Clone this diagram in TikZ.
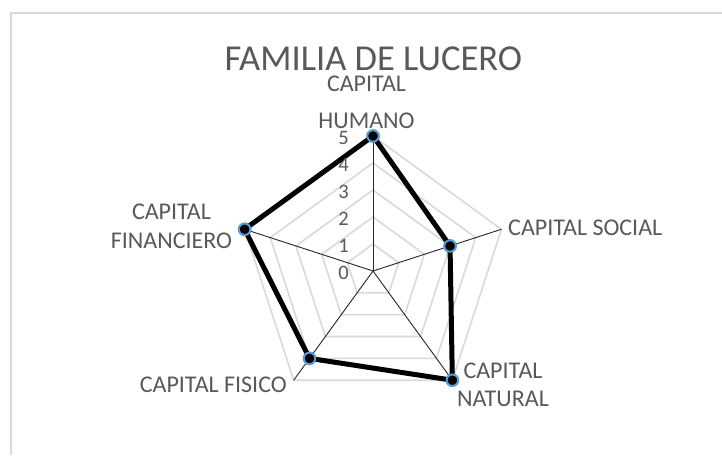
\documentclass[tikz,border=0pt]{standalone}
\usepackage{fontspec}
\setmainfont{Carlito}
\usetikzlibrary{calc}
\definecolor{txt}{HTML}{595959}
\definecolor{gridc}{HTML}{D9D9D9}
\definecolor{mk}{HTML}{5B9BD5}
\begin{document}
\begin{tikzpicture}[x=1pt,y=-1pt,
  gridline/.style={draw=gridc,line width=1.6pt},
  axisline/.style={draw=black!85,line width=0.9pt},
  series/.style={draw=black,line width=5pt,line join=round},
  marker/.style={circle,fill=black,draw=mk,line width=2pt,minimum size=11.5pt,inner sep=0pt},
  lbl/.style={text=txt,inner sep=0pt,align=center},
  tick/.style={text=txt,font=\fontsize{20.5}{20.5}\selectfont,inner sep=0pt,anchor=base east}]
\useasboundingbox (0,0) rectangle (722,455);
\fill[white] (0,0) rectangle (722,455);
\draw[draw=gridc,line width=2pt] (11,455) -- (11,13) -- (722,13);
\coordinate (C) at (373,271);
\foreach \i/\a in {1/90,2/18,3/-54,4/-126,5/162} {
  \foreach \v in {1,...,5} { \coordinate (g\i-\v) at ($(C)+(\a:\v*27pt)$); }
}
% grid pentagons
\foreach \v in {1,...,5}
  \draw[gridline] (g1-\v) -- (g2-\v) -- (g3-\v) -- (g4-\v) -- (g5-\v) -- cycle;
% axes
\foreach \i in {1,...,5}
  \draw[axisline] (C) -- (g\i-5);
% series
\node[marker] (pH) at (g1-5) {};
\node[marker] (pS) at (g2-3) {};
\node[marker] (pN) at (g3-5) {};
\node[marker] (pF) at (g4-4) {};
\node[marker] (pI) at (g5-5) {};
\draw[series] (pH.center) -- (pS.center) -- (pN.center) -- (pF.center) -- (pI.center) -- cycle;
\foreach \n in {pH,pS,pN,pF,pI}
  \node[marker] at (\n) {};
% tick labels
\foreach \v in {0,...,5}
  \node[tick] (t\v) at (349,{279.3-27*\v}) {\v};
% title
\node[text=txt,font=\fontsize{36.5}{36.5}\selectfont,inner sep=0pt,anchor=base] (title) at (373.3,70) {FAMILIA DE LUCERO};
% category labels (anchor base = last line baseline)
\node[lbl,font=\fontsize{24}{36.5}\selectfont,anchor=base] (lH) at (366.5,128) {CAPITAL\\HUMANO};
\node[lbl,font=\fontsize{24}{24}\selectfont,anchor=base west] (lS) at (508,235) {CAPITAL SOCIAL};
\node[lbl,font=\fontsize{24}{28}\selectfont,anchor=base] (lN) at (503,406) {CAPITAL\\NATURAL};
\node[lbl,font=\fontsize{24}{24}\selectfont,anchor=base east] (lF) at (287,392.3) {CAPITAL FISICO};
\node[lbl,font=\fontsize{24}{29}\selectfont,anchor=base] (lI) at (171.5,248) {CAPITAL\\FINANCIERO};
\end{tikzpicture}
\end{document}
